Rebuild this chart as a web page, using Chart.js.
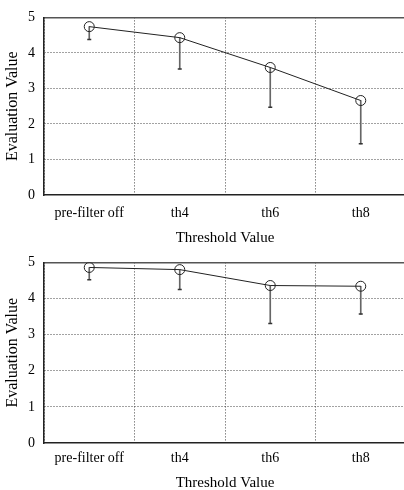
<!DOCTYPE html>
<html>
<head>
<meta charset="utf-8">
<script src="https://cdn.jsdelivr.net/npm/chart.js@4/dist/chart.umd.min.js"></script>
<style>
    html, body { margin: 0; padding: 0; background: #fff; overflow: hidden; }
    canvas { position: absolute; left: 0; }
    #top { top: 0; }
    #bottom { top: 245px; }
</style>
</head>
<body>
<canvas id="top" width="412" height="250"></canvas>
<canvas id="bottom" width="412" height="250"></canvas>
<script>
"use strict";

// data
var categories = ["pre-filter off", "th4", "th6", "th8"];
var yTicks = [0, 1, 2, 3, 4, 5];

// upper panel
var topMeans = [4.74, 4.43, 3.59, 2.66];
var topLower = [4.38, 3.55, 2.47, 1.44];

// lower panel
var bottomMeans = [4.86, 4.80, 4.36, 4.34];
var bottomLower = [4.52, 4.25, 3.31, 3.57];

var serif = "'Liberation Serif', 'DejaVu Serif', serif";
var ink = "#000";

// builds one panel; layout holds the pixel tuning for that panel
function makePanel(id, means, lower, layout) {
    var ctx = document.getElementById(id).getContext("2d");

    return new Chart(ctx, {
        type: "line",
        data: {
            labels: categories,
            datasets: [
                {
                    // means with open circles
                    type: "line",
                    data: means,
                    borderColor: "#222",
                    borderWidth: 1,
                    tension: 0,
                    pointStyle: "circle",
                    pointRadius: 5,
                    pointBorderWidth: 1,
                    pointBorderColor: "#222",
                    pointBackgroundColor: "rgba(0,0,0,0)"
                },
                {
                    // little caps at the end of the error bars
                    type: "line",
                    data: lower,
                    showLine: false,
                    pointStyle: "line",
                    pointRadius: 2,
                    pointBorderWidth: 1.5,
                    pointBorderColor: "#333"
                },
                {
                    // one-sided error bars, mean down to lower value
                    type: "bar",
                    data: categories.map(function (c, i) { return [lower[i], means[i]]; }),
                    backgroundColor: "#666",
                    barThickness: 1,
                    borderWidth: 0
                }
            ]
        },
        options: {
            responsive: false,
            animation: false,
            layout: {
                padding: { top: layout.top, right: 4, left: 0, bottom: 0 }
            },
            plugins: {
                legend: { display: false },
                tooltip: { enabled: false }
            },
            scales: {
                x: {
                    type: "category",
                    position: "bottom",
                    offset: true,
                    grid: {
                        offset: true,
                        drawTicks: false,
                        color: "#444",
                        lineWidth: 1
                    },
                    border: { display: true, color: "#222", width: 1.5, dash: [1, 2] },
                    ticks: {
                        color: ink,
                        padding: layout.tickPad,
                        font: { family: serif, size: 14 }
                    },
                    title: {
                        display: true,
                        text: "Threshold Value",
                        color: ink,
                        font: { family: serif, size: 15 },
                        padding: { top: 0, bottom: layout.titlePad }
                    },
                    afterFit: function (scale) { scale.height = layout.xHeight; }
                },
                xTop: {
                    type: "category",
                    position: "top",
                    grid: { display: false, drawTicks: false },
                    border: { display: true, color: "#555", width: 1.5 },
                    ticks: { display: false },
                    afterFit: function (scale) { scale.height = 0; }
                },
                y: {
                    min: yTicks[0],
                    max: yTicks[yTicks.length - 1],
                    afterBuildTicks: function (scale) {
                        scale.ticks = yTicks.map(function (v) { return { value: v }; });
                    },
                    grid: {
                        drawTicks: false,
                        lineWidth: 1,
                        color: function (c) {
                            if (!c.tick) { return "#444"; }
                            var v = c.tick.value;
                            return (v === yTicks[0] || v === yTicks[yTicks.length - 1]) ? "rgba(0,0,0,0)" : "#444";
                        }
                    },
                    border: { display: true, color: "#222", width: 1.5, dash: [1, 2] },
                    ticks: {
                        color: ink,
                        padding: 9,
                        font: { family: serif, size: 14 }
                    },
                    title: {
                        display: true,
                        text: "Evaluation Value",
                        color: ink,
                        font: { family: serif, size: 16 },
                        padding: { top: 3, bottom: 0 }
                    },
                    afterFit: function (scale) { scale.width = 44; }
                }
            }
        }
    });
}

makePanel("top", topMeans, topLower, { top: 13, xHeight: 55, tickPad: 10, titlePad: 3 });
makePanel("bottom", bottomMeans, bottomLower, { top: 17, xHeight: 52, tickPad: 7, titlePad: 3 });
</script>
</body>
</html>
